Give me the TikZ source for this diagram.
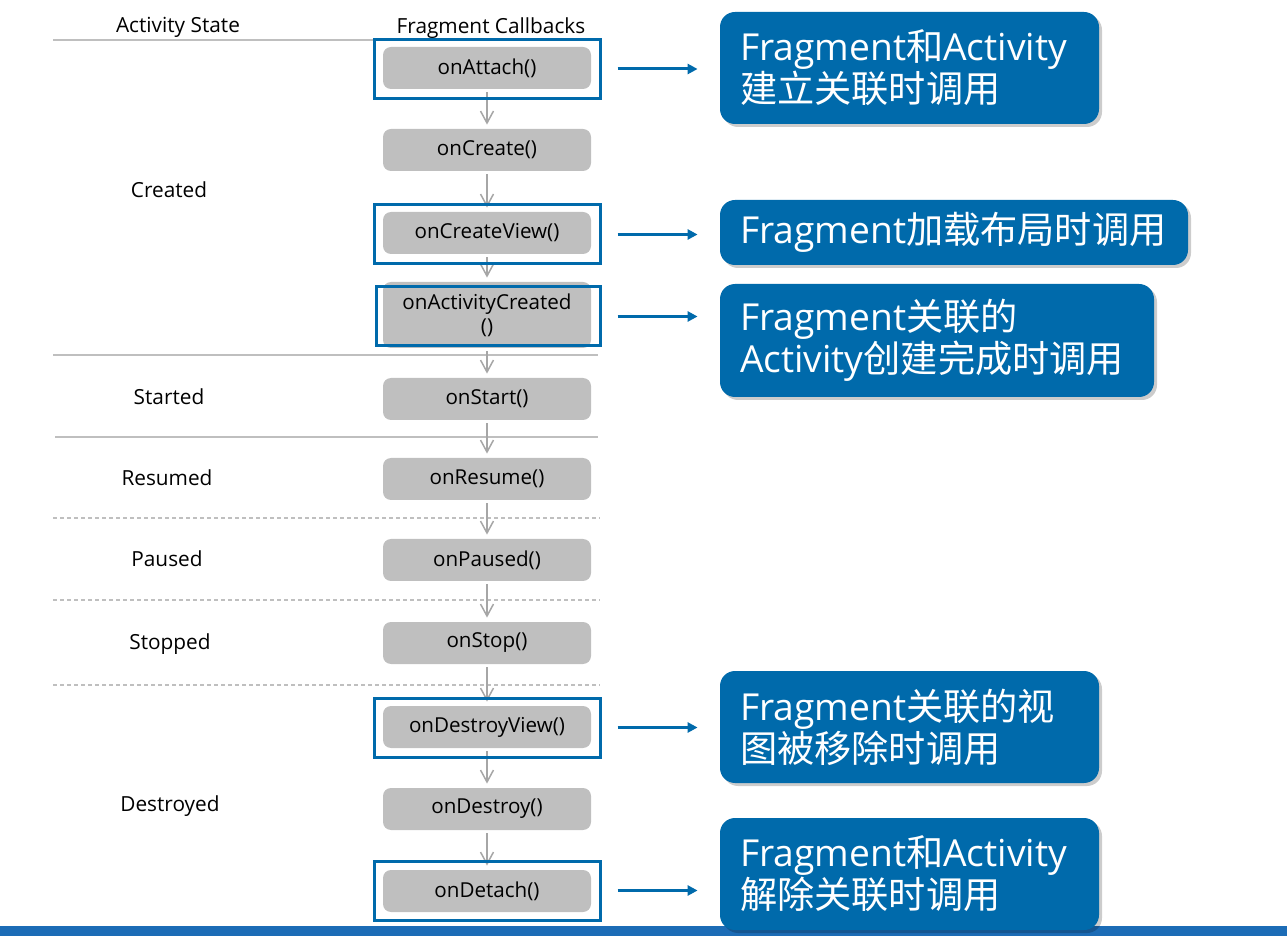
\documentclass[tikz,border=0pt]{standalone}
\usepackage{fontspec}
\setmainfont{Open Sans}
\newfontfamily\cjk{Noto Sans CJK SC}
\usetikzlibrary{arrows.meta,shadows}
\definecolor{boxgray}{HTML}{BFBFBF}
\definecolor{linegray}{HTML}{BFBFBF}
\definecolor{arrgray}{HTML}{A6A6A6}
\definecolor{noteblue}{HTML}{006AAB}
\definecolor{barblue}{HTML}{1C6CB6}
\tikzstyle{callback}=[rectangle, rounded corners=4pt, fill=boxgray, minimum width=104pt, minimum height=21pt, inner sep=0pt, align=center, font=\fontsize{10.3}{12}\selectfont]
\tikzstyle{frame}=[rectangle, draw=noteblue, line width=1.5pt, minimum width=113pt, minimum height=29.5pt, inner sep=0pt]
\tikzstyle{note}=[rectangle, rounded corners=7.5pt, fill=noteblue, text=white, inner xsep=10pt, inner ysep=0pt, align=left, font=\fontsize{18.6}{21}\selectfont, drop shadow={shadow xshift=1.5pt, shadow yshift=-1.5pt, opacity=0.2, fill=black}]
\tikzstyle{statetext}=[font=\fontsize{10.4}{12}\selectfont]
\tikzstyle{flow}=[draw=arrgray, line width=0.75pt, -{Straight Barb[length=6pt,width=6.5pt]}, shorten <=1.5pt, shorten >=2pt]
\tikzstyle{link}=[draw=noteblue, line width=1.5pt, -{Triangle[length=5pt,width=5pt]}, shorten <=8pt, shorten >=11pt]
\tikzstyle{sep}=[draw=linegray, line width=1pt]
\newcommand{\callback}{\node[callback]}
\newcommand{\callout}{\node[note]}
\newcommand{\zh}[1]{{\cjk #1}}

\begin{document}
\begin{tikzpicture}[x=0.5pt,y=-0.5pt]
\useasboundingbox (0,0) rectangle (1287,936);
\fill[barblue] (0,926) rectangle (1287,936);
%%Headers and states
\node[statetext] (hs) at (178,27) {Activity State};
\node[statetext] (hc) at (491,28) {Fragment Callbacks};
\foreach \i/\x/\y/\txt in {1/169/190/Created,2/169/397/Started,3/167/478/Resumed,4/167/559/Paused,5/170/644/Stopped,6/170/806/Destroyed}{
	\node[statetext] (s\i) at (\x,\y) {\txt};
	}
%%separators
\draw[sep] (53,40) -- (374,40) (53,355) -- (598,355) (55,437) -- (598,437);
\foreach \y in {518,600,685}{\draw[sep, dash pattern=on 2pt off 1.5pt] (53,\y) -- (600,\y);}
%%callbacks
\foreach \i/\y/\txt in {1/68/onAttach(),2/150/onCreate(),3/233/onCreateView(),5/399/onStart(),6/479/onResume(),7/560/onPaused(),8/643/onStop(),9/727/onDestroyView(),10/809/onDestroy(),11/891/onDetach()}{
	\callback (c\i) at (487,\y) {\txt};
	}
\callback (c4) at (487,315) [minimum height=33pt]{onActivityCreated\\()};
\foreach \i in {1,...,10}{\pgfmathtruncatemacro{\j}{\i+1}\draw[flow] (c\i) -- (c\j);}
%blue frames
\node[frame] (f1) at (487,69){};
\node[frame] (f2) at (487,234.5){};
\node[frame, minimum width=112pt] (f3) at (488,316.5){};
\node[frame] (f4) at (487,727.5){};
\node[frame] (f5) at (487,890.5){};
%%Notes
\callout (n1) at (909.5,68) [text width=169.5pt, minimum height=56pt]{Fragment\zh{和}Activity\\\zh{建立关联时调用}};
\callout (n2) at (954,232.5) [text width=214pt, minimum height=32.5pt]{Fragment\zh{加载布局时调用}};
\callout (n3) at (937,340.5) [text width=197pt, minimum height=56.5pt]{Fragment\zh{关联的}\\Activity\zh{创建完成时调用}};
\callout (n4) at (909.5,727) [text width=169.5pt, minimum height=56pt]{Fragment\zh{关联的视}\\\zh{图被移除时调用}};
\callout (n5) at (909.5,874) [text width=169.5pt, minimum height=56pt]{Fragment\zh{和}Activity\\\zh{解除关联时调用}};
\foreach \i in {1,...,5}{\draw[link] (f\i.east) -- (f\i.east -| n\i.west);}
\end{tikzpicture}
\end{document}
